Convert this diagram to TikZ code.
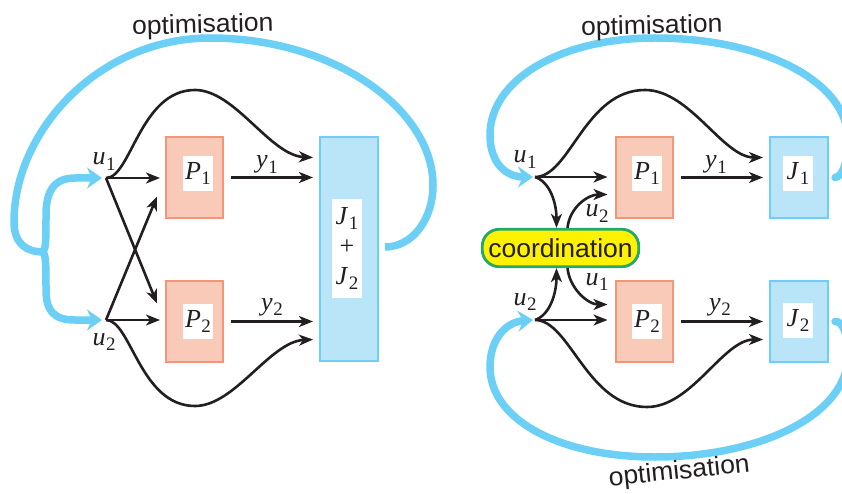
\documentclass[tikz,border=0pt]{standalone}
\usepackage{fontspec}
\setmainfont{Liberation Serif}
\newfontfamily\optsans{Liberation Sans}
\usetikzlibrary{arrows.meta}
\definecolor{ink}{RGB}{35,31,32}
\definecolor{pfill}{RGB}{250,202,184}
\definecolor{pline}{RGB}{244,148,120}
\definecolor{jfill}{RGB}{186,229,249}
\definecolor{jline}{RGB}{109,207,246}
\definecolor{optblue}{RGB}{108,207,246}
\definecolor{coordyel}{RGB}{255,242,0}
\definecolor{coordgreen}{RGB}{38,168,106}
\newcommand\sym[2]{\textit{#1}\kern0.5pt\raisebox{-0.22em}{\fontsize{19}{19}\selectfont #2}}
\newcommand\sanslab[1]{{\optsans\fontsize{26}{26}\selectfont\scalebox{1.02}[1]{#1}}}
\tikzset{
 pbox/.style={draw=pline, fill=pfill, line width=2pt, inner sep=0, minimum width=57pt, minimum height=81pt},
 jbox/.style={draw=jline, fill=jfill, line width=2pt, inner sep=0, minimum width=58pt},
 tagbox/.style={fill=white, inner sep=0, minimum width=30pt, minimum height=35pt, text=ink},
 sigarrow/.style={draw=ink, line width=2.6pt, -{Stealth[length=14pt,width=11pt,inset=4pt]}},
 optline/.style={draw=optblue, line width=7.5pt},
 optarrow/.style={optline, line cap=round, -{Stealth[length=15pt,width=21pt,inset=5pt]}},
 symlab/.style={text=ink, inner sep=0},
 optlab/.style={text=ink, inner sep=0},
 coordbox/.style={draw=coordgreen, fill=coordyel, line width=2.8pt, rounded corners=17pt, minimum width=156.5pt, minimum height=37.5pt, inner sep=0, text=ink}
}
\begin{document}
\begin{tikzpicture}[x=1pt,y=1pt,font=\fontsize{26}{30}\selectfont]
\useasboundingbox (0,0) rectangle (842,-494);
\clip (0,0) rectangle (842,-494);

% ---------- left panel ----------
\node[pbox] (P1) at (194.5,-177.5) {};
\node[tagbox] (P1t) at (198,-173.5) {\sym P1};
\node[pbox] (P2) at (194.5,-321.5) {};
\node[tagbox] (P2t) at (198,-321.5) {\sym P2};
\node[jbox, minimum height=224pt] (J) at (349,-249) {};
\node[tagbox, minimum height=99pt, align=center] (Jt) at (347,-248.5) {\sym J1\\+\\\sym J2};

\coordinate (u1) at (106,-178);
\coordinate (u2) at (106,-320);

\draw[sigarrow] (u1) -- ([xshift=-5pt]P1.west |- u1);
\draw[sigarrow] (u2) -- ([xshift=-5pt]P2.west |- u2);
\draw[sigarrow] (u1) -- ([xshift=-8pt,yshift=18pt]P2.west);
\draw[sigarrow] (u2) -- ([xshift=-8pt,yshift=-19pt]P1.west);
\draw[sigarrow] ([xshift=7pt]P1.east) -- ([xshift=-6pt]J.west |- P1.east);
\draw[sigarrow] ([xshift=7pt]P2.east) -- ([xshift=-6pt]J.west |- P2.east);
\draw[sigarrow] (u1) .. controls +(25,0) and +(-55,0) .. (195,-90) .. controls +(40,0) and +(-43,2) .. ([xshift=-6pt,yshift=20pt]J.west |- P1.east);
\draw[sigarrow] (u2) .. controls +(25,0) and +(-55,0) .. (195,-406) .. controls +(40,0) and +(-43,-2) .. ([xshift=-6pt,yshift=-18pt]J.west |- P2.east);

\node[symlab, anchor=base] (lu1) at (104,-165) {\sym u1};
\node[symlab, anchor=base] (lu2) at (104,-345) {\sym u2};
\node[symlab, anchor=base] (ly1) at (267,-168) {\sym y1};
\node[symlab, anchor=base] (ly2) at (272,-310) {\sym y2};

\coordinate (lj) at (43,-252);
\draw[optline] ([xshift=6pt,yshift=2pt]J.east) .. controls (412,-247) and (433,-220) .. (433,-185)
  .. controls (433,-110) and (335,-38) .. (210,-38)
  .. controls (100,-38) and (14,-130) .. (14,-222)
  .. controls (14,-245) and (28,-252) .. (lj);
\draw[optarrow] (lj) .. controls (46,-248) and (46,-240) .. (46,-215) .. controls (46,-190) and (55,-178) .. (75,-178) -- ([xshift=-4pt]u1);
\draw[optarrow] (lj) .. controls (46,-256) and (46,-265) .. (46,-290) .. controls (46,-312) and (55,-320) .. (75,-320) -- ([xshift=-4pt]u2);
\node[optlab, anchor=base, rotate=1.5] (opt1) at (203,-33) {\sanslab{optimisation}};

% ---------- right panel ----------
\node[pbox] (Q1) at (644,-177.5) {};
\node[tagbox] (Q1t) at (647,-173.5) {\sym P1};
\node[pbox] (Q2) at (644,-321.5) {};
\node[tagbox] (Q2t) at (647,-321.5) {\sym P2};
\node[jbox, minimum height=81pt] (K1) at (799,-177.5) {};
\node[tagbox] (K1t) at (798,-173.5) {\sym J1};
\node[jbox, minimum height=81pt] (K2) at (799,-321.5) {};
\node[tagbox] (K2t) at (798,-320.5) {\sym J2};
\node[coordbox] (C) at (560.5,-248) {\sanslab{coordination}};

\coordinate (v1) at (535,-177);
\coordinate (v2) at (535,-320);

\draw[sigarrow] (v1) -- ([xshift=-7pt]Q1.west |- v1);
\draw[sigarrow] (v2) -- ([xshift=-7pt]Q2.west |- v2);
\draw[sigarrow] ([xshift=7pt]Q1.east) -- ([xshift=-6pt]K1.west |- Q1.east);
\draw[sigarrow] ([xshift=7pt]Q2.east) -- ([xshift=-6pt]K2.west |- Q2.east);
\draw[sigarrow] (v1) .. controls +(35,0) and +(-60,0) .. (645,-90) .. controls +(45,0) and +(-40,0) .. ([xshift=-6pt,yshift=20pt]K1.west);
\draw[sigarrow] (v2) .. controls +(35,0) and +(-60,0) .. (647,-407) .. controls +(45,0) and +(-40,0) .. ([xshift=-6pt,yshift=-18pt]K2.west);
\draw[sigarrow] (v1) .. controls +(15,-5) and +(0,25) .. ([xshift=-4pt]C.north);
\draw[sigarrow] ([xshift=7pt]C.north) .. controls +(2,20) and +(-20,0) .. ([xshift=-7pt,yshift=-17pt]Q1.west);
\draw[sigarrow] (v2) .. controls +(15,5) and +(0,-25) .. ([xshift=-4pt]C.south);
\draw[sigarrow] ([xshift=7pt]C.south) .. controls +(2,-20) and +(-20,0) .. ([xshift=-7pt,yshift=17pt]Q2.west);

\node[symlab, anchor=base] (lv1) at (525,-163) {\sym u1};
\node[symlab, anchor=base] (lv2) at (525,-305) {\sym u2};
\node[symlab, anchor=base] (lc2) at (597,-217) {\sym u2};
\node[symlab, anchor=base] (lc1) at (597,-285) {\sym u1};
\node[symlab, anchor=base] (lz1) at (716,-168) {\sym y1};
\node[symlab, anchor=base] (lz2) at (720,-310) {\sym y2};

\draw[optarrow] ([xshift=6pt]K1.east) .. controls (843,-177) and (848,-160) .. (848,-140)
  .. controls (848,-80) and (760,-38) .. (655,-38)
  .. controls (560,-38) and (490,-80) .. (490,-135)
  .. controls (490,-162) and (505,-177) .. ([xshift=-2pt]v1);
\draw[optarrow] ([xshift=6pt]K2.east) .. controls (843,-321) and (848,-335) .. (848,-355)
  .. controls (848,-415) and (760,-457) .. (655,-457)
  .. controls (560,-457) and (490,-420) .. (490,-367)
  .. controls (490,-340) and (505,-322) .. ([xshift=-2pt]v2);
\node[optlab, anchor=base, rotate=1.5] (opt2) at (652,-34) {\sanslab{optimisation}};
\node[optlab, anchor=base, rotate=6] (opt3) at (680,-479) {\sanslab{optimisation}};
\end{tikzpicture}
\end{document}
